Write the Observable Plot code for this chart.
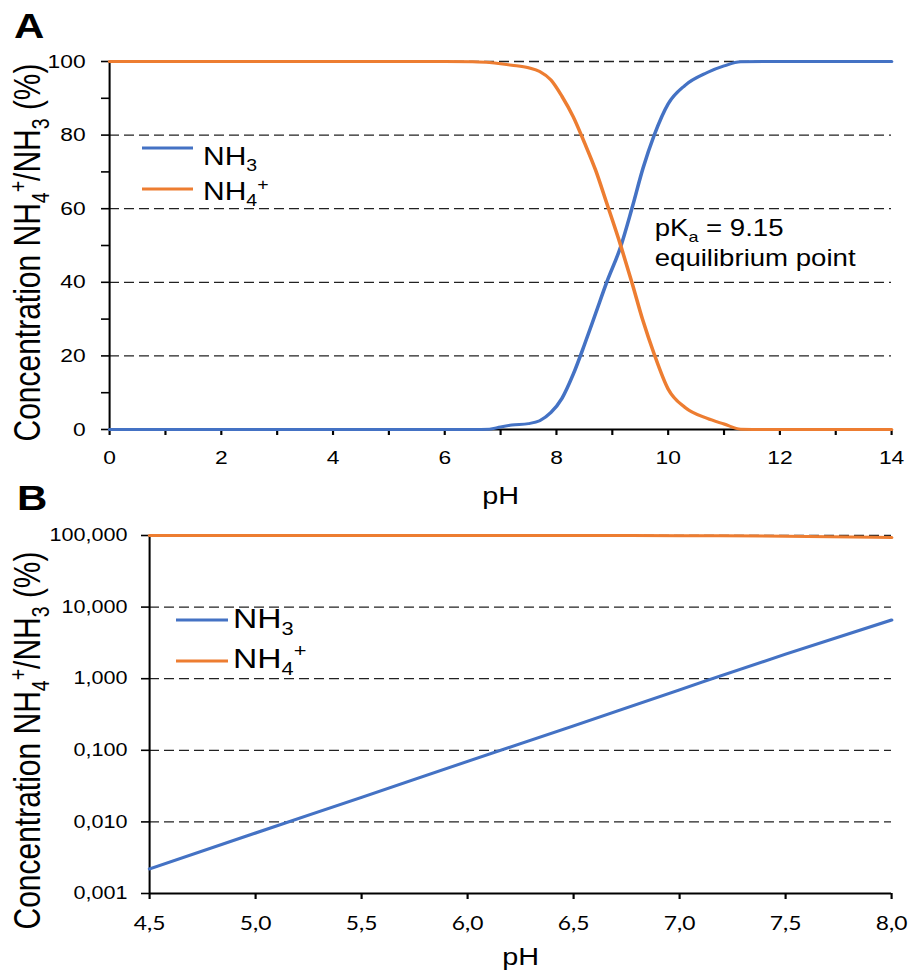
<!DOCTYPE html>
<html>
<head>
<meta charset="utf-8">
<script src="https://cdn.jsdelivr.net/npm/d3@7"></script>
<script src="https://cdn.jsdelivr.net/npm/@observablehq/plot@0.6"></script>
<style>
  html, body { margin: 0; padding: 0; background: #fff; }
  #wrap { position: relative; width: 909px; height: 976px; overflow: hidden; background: #fff; }
  #pa, #pb { position: absolute; left: 0; }
  #pa { top: 0; }
  #pb { top: 470px; }
</style>
</head>
<body>
<div id="wrap"><div id="pa"></div><div id="pb"></div></div>
<script>
// ---------- data ----------
// Panel A: species distribution vs pH (linear scale, %)
const pHA  = [0, 1, 2, 3, 4, 5, 6, 6.5, 6.8, 7.0, 7.2, 7.5, 7.7, 7.9, 8.1, 8.3, 8.5, 8.7, 8.9, 9.15, 9.35, 9.55, 9.75, 10.0, 10.3, 10.7, 11.0, 11.3, 12, 13, 14];
const nh3A = [0, 0, 0, 0, 0, 0, 0, 0, 0.1, 0.7, 1.2, 1.6, 2.4, 4.6, 8.5, 15, 23, 31.5, 40, 49.7, 60, 71, 80, 88.5, 93.5, 97, 98.8, 99.9, 100, 100, 100];
const nh4A = [100, 100, 100, 100, 100, 100, 100, 99.9, 99.7, 99.4, 99.0, 98.3, 97.3, 95, 90.5, 85, 78, 70.5, 61.5, 50, 40, 29.5, 20.5, 11, 6, 3, 1.5, 0.1, 0, 0, 0];

// Panel B: log scale, pH 4.5 - 8.0
const pHB  = [4.5, 5.0, 5.5, 6.0, 6.5, 7.0, 7.5, 8.0];
const nh3B = [0.0022, 0.0070, 0.022, 0.070, 0.22, 0.70, 2.2, 6.6];
const nh4B = [99.998, 99.993, 99.98, 99.93, 99.78, 99.3, 97.8, 93.4];

// Ticks / labels
const xTicksA = [0, 2, 4, 6, 8, 10, 12, 14];
const xMinorA = [1, 3, 5, 7, 9, 11, 13];
const yTicksA = [0, 20, 40, 60, 80, 100];
const yMinorA = [10, 30, 50, 70, 90];
const gridA   = [20, 40, 60, 80, 100];

const xTicksB = [4.5, 5.0, 5.5, 6.0, 6.5, 7.0, 7.5, 8.0];
const xTickLabelsB = ["4,5", "5,0", "5,5", "6,0", "6,5", "7,0", "7,5", "8,0"];
const yTicksB = [0.001, 0.01, 0.1, 1, 10, 100];
const yTickLabelsB = ["0,001", "0,010", "0,100", "1,000", "10,000", "100,000"];
const gridB   = [0.01, 0.1, 1, 10, 100];

const seriesNames = ["NH_{3}", "NH_{4}^{+}"];
const seriesColors = ["#4472C4", "#ED7D31"];
const yTitle = "Concentration NH_{4}^{+}/NH_{3} (%)";
const xTitle = "pH";
const pKa = 9.15;
const annoLines = ["pK_{a} = 9.15", "equilibrium point"];
const panelTags = ["A", "B"];

// ---------- layout ----------
const SX = 1.2;            // horizontal stretch of the original figure
const W = 909 / SX;
const FONT = "'Liberation Sans', Arial, Helvetica, sans-serif";

const dataA = pHA.map((p, i) => ({pH: p, nh3: nh3A[i], nh4: nh4A[i]}));
const dataB = pHB.map((p, i) => ({pH: p, nh3: nh3B[i], nh4: nh4B[i]}));

const baseStyle = {fontFamily: FONT, fontSize: "19px", color: "#000", background: "transparent", overflow: "visible"};
const dash = `${10 / SX},${5 / SX}`;

const HA = 520;
const plotA = Plot.plot({
  width: W, height: HA,
  marginTop: 61, marginBottom: HA - 429, marginLeft: 109 / SX, marginRight: 18 / SX,
  style: baseStyle,
  x: {domain: [0, 14]},
  y: {domain: [0, 100]},
  marks: [
    Plot.ruleY(gridA, {stroke: "#222", strokeWidth: 1.3, strokeDasharray: dash}),
    Plot.ruleX([0], {stroke: "#000", strokeWidth: 1.7}),
    Plot.ruleY([0], {stroke: "#000", strokeWidth: 2.2}),
    Plot.axisY({ticks: yTicksA, tickSize: 8 / SX, tickPadding: 16 / SX, strokeWidth: 1.6, fontSize: 19, label: null}),
    Plot.axisY({ticks: yMinorA, tickSize: 8 / SX, tickFormat: () => "", strokeWidth: 1.6, label: null}),
    Plot.axisX({ticks: xTicksA, tickSize: 6, tickPadding: 15, strokeWidth: 1.8, fontSize: 19, label: null}),
    Plot.axisX({ticks: xMinorA, tickSize: 6, tickFormat: () => "", strokeWidth: 1.8, label: null}),
    Plot.line(dataA, {x: "pH", y: "nh3", stroke: seriesColors[0], strokeWidth: 3, curve: "monotone-x"}),
    Plot.line(dataA, {x: "pH", y: "nh4", stroke: seriesColors[1], strokeWidth: 3, curve: "monotone-x"}),
    Plot.text([{x: pKa, y: 50}], {x: "x", y: "y", text: () => annoLines[0], textAnchor: "start", lineAnchor: "middle", dx: 34 / SX, dy: -17, fontSize: 23}),
    Plot.text([{x: pKa, y: 50}], {x: "x", y: "y", text: () => annoLines[1], textAnchor: "start", lineAnchor: "middle", dx: 34 / SX, dy: 13, fontSize: 23}),
    Plot.text([yTitle], {text: d => d, frameAnchor: "left", rotate: -90, dx: 28 / SX - 109 / SX, dy: 7, fontSize: 30, textAnchor: "middle", lineAnchor: "middle"}),
    Plot.text([xTitle], {text: d => d, frameAnchor: "bottom", dy: 67, fontSize: 24, lineAnchor: "middle"})
  ]
});

const HB = 506; // svg B placed at top 470
const plotB = Plot.plot({
  width: W, height: HB,
  marginTop: 535 - 470, marginBottom: HB - (893 - 470), marginLeft: 149 / SX, marginRight: 18 / SX,
  style: baseStyle,
  x: {domain: [4.5, 8.0]},
  y: {type: "log", domain: [0.001, 100]},
  marks: [
    Plot.ruleY(gridB, {stroke: "#222", strokeWidth: 1.3, strokeDasharray: dash}),
    Plot.ruleX([4.5], {stroke: "#000", strokeWidth: 1.7}),
    Plot.ruleY([0.001], {stroke: "#000", strokeWidth: 2.2}),
    Plot.axisY({ticks: yTicksB, tickSize: 8 / SX, tickPadding: 14 / SX, strokeWidth: 1.6, fontSize: 18,
      tickFormat: d => yTickLabelsB[yTicksB.findIndex(t => Math.abs(Math.log10(t) - Math.log10(d)) < 1e-6)], label: null}),
    Plot.axisX({ticks: xTicksB, tickSize: 6, tickPadding: 17, strokeWidth: 1.8, fontSize: 19, fontFamily: "Lato, 'Liberation Sans', sans-serif",
      tickFormat: d => xTickLabelsB[xTicksB.findIndex(t => Math.abs(t - d) < 1e-9)], label: null}),
    Plot.line(dataB, {x: "pH", y: "nh3", stroke: seriesColors[0], strokeWidth: 3, curve: "monotone-x"}),
    Plot.line(dataB, {x: "pH", y: "nh4", stroke: seriesColors[1], strokeWidth: 3, curve: "monotone-x"}),
    Plot.text([yTitle], {text: d => d, frameAnchor: "left", rotate: -90, dx: 28 / SX - 149 / SX, dy: 26, fontSize: 30, textAnchor: "middle", lineAnchor: "middle"}),
    Plot.text([xTitle], {text: d => d, frameAnchor: "bottom", dy: 64, fontSize: 24, lineAnchor: "middle"})
  ]
});

document.getElementById("pa").appendChild(plotA);
document.getElementById("pb").appendChild(plotB);

// ---------- helpers ----------
const NS = "http://www.w3.org/2000/svg";
function rich(el) {
  const str = el.textContent;
  if (!/[_^]\{/.test(str) || el.children.length) return;
  const fs = parseFloat(getComputedStyle(el).fontSize);
  el.textContent = "";
  const parts = str.split(/([_^]\{[^}]*\})/);
  let cur = 0;
  for (const p of parts) {
    if (!p) continue;
    let target = 0, txt = p, small = false;
    if (p[0] === "_") { target = 0.26 * fs; txt = p.slice(2, -1); small = true; }
    else if (p[0] === "^") { target = -0.40 * fs; txt = p.slice(2, -1); small = true; }
    const t = document.createElementNS(NS, "tspan");
    if (target - cur !== 0) t.setAttribute("dy", (target - cur).toFixed(2));
    if (small) t.setAttribute("font-size", (0.65 * fs).toFixed(2) + "px");
    t.textContent = txt;
    el.appendChild(t);
    cur = target;
  }
}

function addLegend(svg, cfg) {
  const g = d3.select(svg).append("g")
    .attr("font-family", FONT).attr("fill", "#000").attr("text-anchor", "start");
  seriesNames.forEach((name, i) => {
    g.append("line")
      .attr("x1", cfg.x1).attr("x2", cfg.x2)
      .attr("y1", cfg.lineY[i]).attr("y2", cfg.lineY[i])
      .attr("stroke", seriesColors[i]).attr("stroke-width", 3);
    g.append("text")
      .attr("x", cfg.tx).attr("y", cfg.baseY[i])
      .attr("font-size", cfg.fs)
      .attr("text-anchor", "start")
      .text(name);
  });
}

function addTag(svg, label, x, y) {
  d3.select(svg).append("text")
    .attr("x", x).attr("y", y)
    .attr("text-anchor", "start")
    .attr("font-family", FONT).attr("font-weight", "bold").attr("font-size", 35)
    .attr("fill", "#000")
    .text(label);
}

function stretch(svg, H) {
  svg.setAttribute("width", 909);
  svg.setAttribute("height", H);
  svg.setAttribute("preserveAspectRatio", "none");
  svg.style.width = "909px";
  svg.style.height = H + "px";
  svg.style.maxWidth = "none";
  svg.style.background = "transparent";
  svg.style.overflow = "visible";
}

addLegend(plotA, {x1: 142 / SX, x2: 193 / SX, lineY: [148, 189], tx: 203 / SX, baseY: [165, 200], fs: 25});
addLegend(plotB, {x1: 176 / SX, x2: 228 / SX, lineY: [150, 191], tx: 233 / SX, baseY: [158, 198], fs: 28});
addTag(plotA, panelTags[0], 14 / SX, 38);
addTag(plotB, panelTags[1], 17 / SX, 40);

for (const svg of [plotA, plotB]) svg.querySelectorAll("text").forEach(rich);
stretch(plotA, HA);
stretch(plotB, HB);
</script>
</body>
</html>
